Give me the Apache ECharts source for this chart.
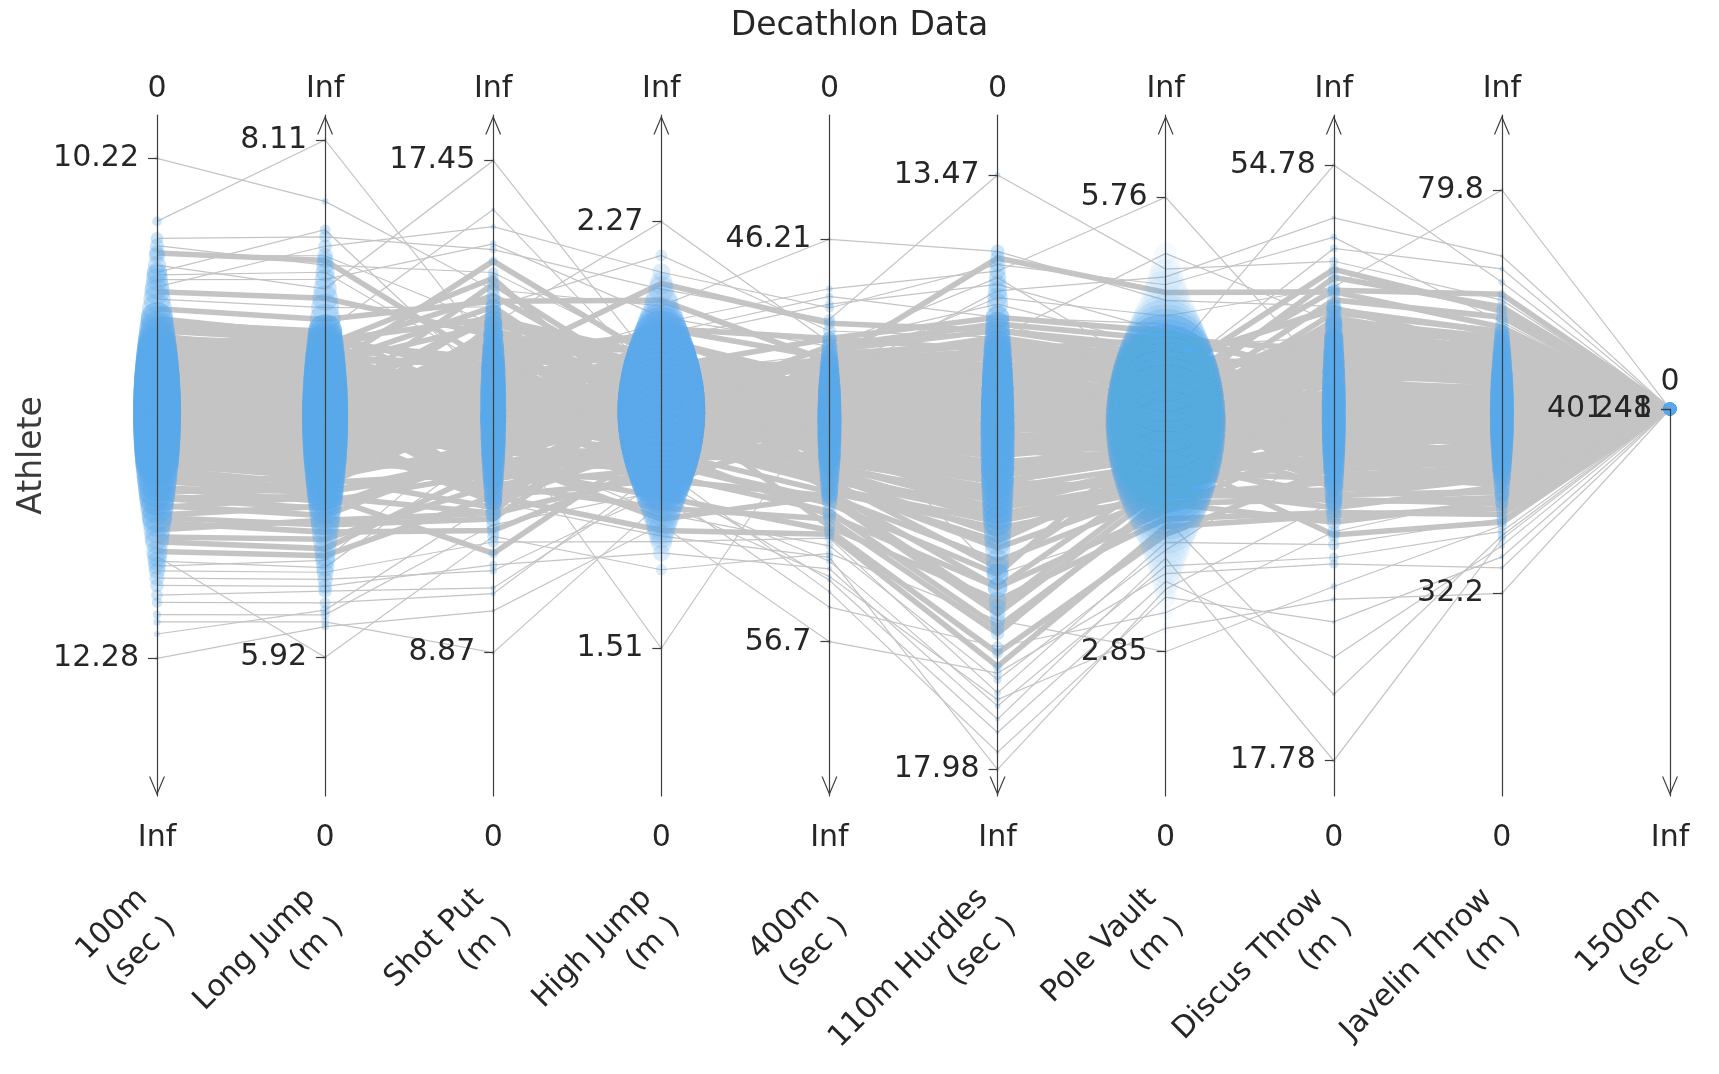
<!DOCTYPE html>
<html>
<head>
<meta charset="utf-8">
<title>Decathlon Data</title>
<script src="https://cdn.jsdelivr.net/npm/echarts@6/dist/echarts.min.js"></script>
<style>
html,body{margin:0;padding:0;background:#fff}
#chart{width:1719px;height:1074px}
</style>
</head>
<body>
<div id="chart"></div>
<script>
const FONT = 'DejaVu Sans'
const TXT = '#262626'

const events = ['100m','Long Jump','Shot Put','High Jump','400m','110m Hurdles','Pole Vault','Discus Throw','Javelin Throw','1500m']
const units = ['sec','m','m','m','sec','sec','m','m','m','sec']
const topLabels = ['0','Inf','Inf','Inf','0','0','Inf','Inf','Inf','0']
const bottomLabels = ['Inf','0','0','0','Inf','Inf','0','0','0','Inf']

// one entry per athlete, same athlete order in every list
const run100 = [10.22,10.48,10.55,10.62,10.70,10.66,10.75,10.58,10.80,10.72,10.69,10.84,10.77,10.88,10.61,
  11.02,11.15,11.31,10.95,11.22,11.40,11.08,11.27,11.18,11.35,
  11.12,10.98,11.44,11.25,11.05,11.33,11.21,11.50,10.92,11.14,
  11.29,11.38,11.10,11.24,11.47,11.03,11.19,11.36,11.26,11.11,
  11.55,11.00,11.23,11.42,11.16,11.30,10.97,11.34,11.20,11.58,
  11.07,11.28,11.45,11.13,11.39,11.22,11.62,11.09,11.32,11.17,
  11.48,11.04,11.26,11.53,11.19,11.41,11.12,11.37,11.65,11.24,
  11.06,11.43,11.31,11.70,11.15,
  11.72,11.80,11.66,11.88,11.75,11.95,11.60,11.84,12.02,11.78,
  11.92,12.05,11.69,11.98,12.10,12.28,11.86,12.13,11.90,12.18,
  11.18,11.05,11.33,11.27,10.96,11.41,11.12,11.22,11.36,11.08,
  11.29,11.47,11.15,11.02,11.38,11.24,11.10,11.52,11.19,11.31,
  10.90,11.26,11.44,11.14,11.06,11.35,11.21,11.58,11.00,11.28,
  11.17,11.40,10.93,11.23,11.49,11.11,11.32,11.04,11.25,11.43,
  11.16,11.55,11.09,11.30,10.99,11.37,11.20,11.46,11.13,11.34,
  11.01,11.27,11.62,11.18,11.07,11.39,11.22,10.88,11.45,11.12]
const longJump = [7.85,8.11,7.70,7.62,7.55,7.48,7.66,7.58,7.40,7.52,7.73,7.35,7.44,7.30,7.60,
  7.12,6.95,6.82,7.20,7.02,6.78,7.15,6.90,7.05,6.85,
  7.08,7.25,6.70,6.98,7.18,6.88,7.00,6.65,7.28,7.10,
  6.92,6.80,7.13,6.97,6.72,7.22,7.04,6.84,6.94,7.16,
  6.62,7.30,6.99,6.76,7.07,6.89,7.24,6.83,7.01,6.58,
  7.19,6.93,6.74,7.11,6.86,7.03,6.55,7.14,6.91,7.06,
  6.68,7.26,6.96,6.63,7.09,6.81,7.17,6.87,6.52,6.99,
  7.21,6.77,6.90,6.48,7.04,
  6.45,6.38,6.60,6.30,6.50,6.25,6.66,6.35,6.20,6.42,
  6.28,6.15,6.56,6.22,6.10,6.05,5.92,6.07,6.33,6.12,
  7.02,7.15,6.85,6.93,7.24,6.76,7.08,6.98,6.82,7.12,
  6.90,6.72,7.05,7.18,6.80,6.95,7.10,6.66,7.00,6.88,
  7.30,6.94,6.75,7.06,7.14,6.86,6.99,6.62,7.20,6.91,
  7.03,6.79,7.26,6.97,6.70,7.09,6.87,7.16,6.96,6.78,
  7.04,6.68,7.11,6.89,7.22,6.83,7.01,6.74,7.07,6.92,
  7.19,6.95,6.60,7.00,7.13,6.81,6.98,7.28,6.77,7.05]
const shotPut = [15.2,14.1,15.9,14.6,13.8,17.45,16.3,15.5,14.9,16.0,13.5,15.0,14.4,16.6,13.9,
  13.4,12.6,14.2,12.9,13.7,11.9,13.2,14.5,12.3,13.0,
  12.8,14.0,13.3,11.6,13.9,12.5,14.8,13.1,12.2,13.6,
  14.3,12.7,13.5,11.8,13.0,15.1,12.4,13.8,12.9,14.6,
  12.1,13.2,14.1,12.6,13.4,11.5,15.4,12.8,13.7,12.0,
  13.9,12.3,14.4,13.1,11.7,13.6,12.5,15.7,12.9,13.3,
  11.4,14.7,12.2,13.8,12.7,14.0,11.9,13.5,12.4,15.3,
  13.0,12.6,14.2,11.2,13.4,
  11.0,12.1,10.6,12.5,11.3,10.3,12.0,11.6,10.0,11.8,
  10.8,9.9,12.3,10.4,11.1,9.6,10.9,8.87,13.0,11.5,
  13.5,12.4,14.2,13.0,12.7,14.6,13.3,11.9,13.8,12.9,
  14.0,12.2,13.6,13.1,12.5,14.4,11.7,13.4,12.8,13.9,
  12.0,14.8,13.2,12.6,13.7,11.5,14.1,12.3,13.0,14.5,
  12.9,13.5,11.8,14.3,12.4,13.6,12.1,14.9,13.3,12.7,
  13.8,12.5,14.2,11.6,13.1,12.8,14.7,12.2,13.4,13.9,
  12.6,14.0,11.3,13.2,12.9,14.4,12.3,13.7,11.9,13.0]
const highJump = [2.12,2.06,2.15,2.27,2.09,2.00,2.18,2.03,2.21,2.10,2.07,2.13,2.01,1.98,2.16,
  1.97,1.91,2.04,1.88,1.95,1.85,2.00,1.93,1.99,1.87,
  1.94,2.02,1.90,1.96,1.84,2.05,1.92,1.89,2.08,1.95,
  1.86,1.98,1.93,2.03,1.91,1.97,1.82,1.99,1.94,2.01,
  1.88,1.96,1.92,2.04,1.85,1.97,1.90,2.00,1.94,1.81,
  1.99,1.93,1.87,2.06,1.91,1.95,1.84,2.02,1.96,1.89,
  1.92,1.98,1.83,2.01,1.94,1.88,2.03,1.90,1.86,1.97,
  1.93,2.00,1.80,1.95,1.91,
  1.84,1.78,1.88,1.75,1.82,1.79,1.86,1.72,1.81,1.76,
  1.70,1.83,1.74,1.68,1.79,1.73,1.65,1.77,1.51,1.71,
  1.94,2.00,1.88,1.97,1.91,2.03,1.85,1.96,1.92,2.06,
  1.89,1.99,1.93,1.82,2.01,1.95,1.87,2.04,1.90,1.98,
  1.94,1.84,2.02,1.92,1.96,1.88,2.07,1.93,1.86,1.99,
  1.91,2.00,1.83,1.95,1.97,1.89,2.05,1.92,1.94,1.86,
  2.01,1.90,1.96,1.81,1.98,1.93,2.03,1.87,1.95,1.91,
  1.99,1.85,2.02,1.94,1.89,1.97,1.92,2.08,1.88,1.96]
const run400 = [46.21,47.9,48.3,48.9,47.5,49.2,48.0,49.6,48.6,49.0,47.7,49.4,48.8,49.9,48.4,
  50.1,50.8,51.4,49.7,50.5,51.9,50.0,51.1,50.3,51.6,
  49.8,49.5,52.1,50.6,50.2,51.3,50.7,52.4,49.3,50.4,
  51.0,51.7,49.9,50.9,52.2,50.3,50.6,51.5,50.8,49.6,
  52.6,49.4,50.7,51.8,50.1,51.2,49.7,51.4,50.5,52.9,
  49.9,50.8,52.0,50.2,51.6,50.4,53.1,50.0,51.3,50.6,
  52.3,49.8,50.9,52.7,50.3,51.9,50.1,51.1,53.4,50.7,
  50.2,51.8,51.0,53.7,50.5,
  53.0,53.8,52.5,54.2,53.3,54.6,52.8,53.9,55.1,53.5,
  54.0,55.4,52.9,54.8,55.8,56.7,54.4,55.0,50.4,54.5,
  50.4,49.6,51.2,50.9,49.2,51.8,50.1,50.6,51.5,49.9,
  50.8,52.0,50.2,49.5,51.3,50.5,50.0,52.4,50.7,51.1,
  49.0,50.9,51.7,50.3,49.8,51.4,50.6,52.7,49.4,51.0,
  50.4,51.9,49.1,50.8,52.2,50.2,51.2,49.7,50.5,51.6,
  50.1,52.5,49.9,51.3,49.3,51.8,50.7,52.1,50.0,51.0,
  49.6,50.9,52.8,50.4,49.8,51.5,50.6,48.8,51.9,50.2]
const hurdles110 = [14.05,14.30,13.47,14.45,14.20,14.60,14.15,14.40,14.70,14.25,14.55,14.10,14.80,14.35,14.65,
  15.0,15.3,15.6,14.9,15.2,15.8,14.95,15.4,15.1,15.7,
  15.05,14.85,16.0,15.25,14.9,15.5,15.15,16.2,14.75,15.35,
  15.45,15.9,15.0,15.2,16.1,15.1,15.3,15.65,15.4,14.95,
  16.3,14.8,15.25,15.75,15.05,15.55,14.9,15.6,15.15,16.4,
  15.1,15.35,15.85,15.0,15.7,15.2,16.5,14.95,15.45,15.3,
  16.05,15.0,15.4,16.25,15.15,15.8,15.05,15.5,16.6,15.25,
  15.1,15.95,15.35,16.7,15.2,
  16.8,17.1,16.45,17.3,16.9,17.5,16.6,17.2,17.7,16.95,
  17.4,17.85,16.75,17.6,17.05,17.25,16.85,17.45,16.5,17.98,
  15.10,14.85,15.45,15.30,14.75,15.70,15.00,15.20,15.55,14.95,
  15.35,15.85,15.05,14.80,15.60,15.25,14.90,16.00,15.15,15.40,
  14.60,15.30,15.75,15.10,14.90,15.50,15.20,16.10,14.70,15.35,
  15.05,15.65,14.65,15.25,15.90,15.00,15.45,14.85,15.20,15.80,
  15.10,16.05,14.95,15.40,14.75,15.55,15.15,15.95,15.00,15.30,
  14.80,15.25,16.15,15.10,14.90,15.60,15.20,14.55,15.70,15.05]
const poleVault = [5.10,4.90,5.30,4.80,5.76,4.70,5.20,5.00,5.40,4.60,4.95,5.15,4.85,5.25,4.75,
  4.50,4.30,4.60,4.20,4.45,4.10,4.55,4.35,4.70,4.15,
  4.40,4.65,4.05,4.50,4.25,4.80,4.35,4.00,4.60,4.45,
  4.20,4.55,4.30,4.75,3.95,4.40,4.50,4.10,4.65,4.25,
  3.90,4.60,4.35,4.15,4.70,4.05,4.45,4.30,4.55,3.85,
  4.50,4.20,3.95,4.40,4.10,4.85,4.30,4.60,4.00,4.45,
  3.80,4.70,4.25,4.05,4.50,3.90,4.40,4.15,3.75,4.55,
  4.35,4.00,4.60,3.70,4.30,
  3.90,3.60,4.10,3.50,3.80,3.40,4.00,3.65,3.30,3.85,
  3.55,3.20,3.95,3.45,3.10,3.35,2.85,3.00,3.70,3.25,
  4.40,4.60,4.20,4.50,4.70,4.10,4.45,4.35,4.15,4.65,
  4.30,4.05,4.55,4.75,4.25,4.40,4.60,3.95,4.50,4.30,
  4.85,4.35,4.10,4.55,4.65,4.20,4.45,3.90,4.70,4.30,
  4.50,4.15,4.80,4.40,4.00,4.60,4.25,4.70,4.35,4.10,
  4.55,3.95,4.65,4.30,4.75,4.20,4.50,4.05,4.60,4.40,
  4.70,4.35,3.85,4.45,4.60,4.20,4.40,4.90,4.15,4.50]
const discus = [46.0,42.5,48.8,44.1,41.2,54.78,50.3,47.2,45.0,49.6,40.8,46.9,43.3,51.5,42.0,
  41.5,38.7,43.8,37.9,40.6,35.8,39.4,44.7,36.9,40.0,
  38.3,42.9,39.9,34.9,43.0,37.4,45.6,39.1,36.2,41.8,
  44.2,38.0,40.4,35.5,39.6,46.4,37.1,42.2,38.8,44.9,
  36.5,40.9,43.5,37.7,41.1,34.3,47.8,38.4,42.6,35.1,
  43.1,37.2,45.3,39.8,33.8,41.9,36.7,48.3,38.5,40.2,
  34.0,45.9,37.0,42.4,39.2,43.6,35.6,41.3,38.1,47.0,
  39.0,36.4,44.0,33.2,40.7,
  33.5,36.0,31.8,37.6,32.6,30.4,35.3,33.0,24.2,34.6,
  31.2,26.4,36.8,17.78,32.0,30.0,28.6,27.8,21.9,33.9,
  40.5,37.8,42.6,39.2,38.4,44.0,40.1,36.5,41.8,39.0,
  43.2,37.0,41.0,39.7,38.0,43.8,35.9,40.8,38.9,42.3,
  36.2,45.1,39.5,38.3,41.6,34.8,42.9,37.4,39.9,44.5,
  38.7,40.6,35.5,43.5,37.6,41.3,36.8,45.8,40.2,38.5,
  42.0,37.9,43.0,35.0,39.4,38.8,44.8,37.2,40.4,42.7,
  38.1,41.9,34.2,39.8,39.1,43.9,37.5,41.4,36.0,40.0]
const javelin = [62.5,58.0,66.8,60.4,56.1,68.9,64.2,79.8,59.3,70.5,55.4,63.6,61.0,72.0,57.5,
  55.8,52.3,59.6,50.1,54.7,48.2,53.5,61.8,49.4,56.9,
  53.0,58.7,51.2,47.0,57.9,50.6,63.1,52.8,46.1,55.1,
  60.2,49.8,54.2,45.5,53.8,64.8,48.7,57.2,51.7,62.0,
  47.6,55.9,59.0,50.3,54.5,44.2,66.0,52.0,58.3,46.8,
  56.6,49.1,61.5,53.3,43.5,57.0,48.0,65.5,51.5,54.9,
  42.8,60.8,50.9,58.1,52.6,59.8,45.0,56.3,49.6,67.5,
  53.6,47.3,62.7,41.5,55.2,
  44.8,48.5,40.6,51.0,43.0,39.5,46.5,42.2,37.8,45.8,
  41.0,36.5,47.9,38.6,43.8,35.2,40.2,32.2,39.0,44.0,
  55.0,50.2,58.4,53.1,51.6,60.8,54.4,48.7,57.0,52.5,
  59.3,49.6,56.1,53.8,51.0,61.5,47.8,55.6,52.0,58.9,
  48.3,62.4,54.1,51.4,57.6,46.5,59.9,50.6,53.5,61.0,
  52.2,56.7,47.2,60.2,50.9,56.4,49.1,63.0,54.7,51.8,
  58.0,50.0,59.6,46.9,53.3,52.7,62.0,49.4,55.3,58.6,
  51.2,57.3,45.8,54.0,53.0,60.5,50.4,57.8,48.0,55.8]
const run1500 = [265.2,272.4,259.8,268.1,275.6,281.3,270.0,263.5,277.9,248,274.3,266.7,279.1,262.4,271.8,
  280.5,287.2,276.4,291.0,283.6,295.8,278.9,285.4,289.7,282.1,
  286.9,279.7,293.4,284.2,290.6,281.0,297.3,288.1,276.8,292.5,
  283.0,289.2,280.1,296.4,285.9,278.3,291.7,287.5,282.8,294.1,
  288.6,281.7,299.0,284.8,290.1,286.3,277.4,293.0,285.1,301.2,
  279.5,292.0,287.8,283.3,298.2,286.0,290.9,280.8,294.7,288.4,
  302.5,284.5,291.3,282.4,296.9,289.0,285.7,293.8,304.0,287.0,
  281.5,295.2,286.6,306.3,290.3,
  305.1,298.7,310.4,300.2,312.8,303.6,315.2,308.9,320.5,302.9,
  318.0,309.5,325.7,313.4,330.1,401.41,316.6,322.3,311.9,327.4,
  286.2,279.4,292.8,284.0,281.6,297.5,288.3,276.9,294.2,283.1,
  290.4,299.8,285.5,278.2,295.0,287.4,282.7,301.6,289.1,291.9,
  277.5,288.8,296.3,284.6,280.3,293.6,286.8,303.2,279.0,290.0,
  285.0,298.4,276.0,289.5,300.7,283.8,292.2,281.2,287.9,296.8,
  284.3,302.4,280.7,291.4,278.6,295.6,286.4,299.2,282.0,289.8,
  279.8,288.0,304.5,285.8,281.9,294.9,287.1,275.3,297.9,283.5]

// value found at the top and at the bottom end of each drawn axis
const axisTop = [10.0416, 8.2158, 18.247, 2.4601, 42.970, 13.0147, 6.287, 57.886, 88.652, -431395]
const axisBottom = [12.8474, 5.3328, 6.371, 1.2469, 60.722, 18.1826, 1.926, 15.587, 8.277, 568605]
// widest point and opacity of the blue dot cloud on each axis
const blobWidth = [48, 46, 26, 88, 24, 34, 120, 24, 24, 13]
const blobOpacity = [0.3, 0.3, 0.3, 0.22, 0.3, 0.3, 0.06, 0.3, 0.3, 0.3]

const cols = [run100, longJump, shotPut, highJump, run400, hurdles110, poleVault, discus, javelin, run1500]
const inv = axisTop.map((t, i) => t < axisBottom[i])
const lo = axisTop.map((t, i) => Math.min(t, axisBottom[i]))
const hi = axisTop.map((t, i) => Math.max(t, axisBottom[i]))
const ext = cols.map(c => [Math.min(...c), Math.max(...c)])
const stats = cols.map(c => {
  const m = c.reduce((a, b) => a + b, 0) / c.length
  const sd = Math.sqrt(c.reduce((a, b) => a + (b - m) * (b - m), 0) / c.length)
  return [m, sd]
})
const zOf = (i, v) => (v - stats[i][0]) / stats[i][1]
function dotSize(i, v){
  const z = zOf(i, v)
  return Math.max(4, blobWidth[i] * Math.exp(-0.5 * (z / 1.3) * (z / 1.3)))
}
// athletes that stay inside the main band get a wide stroke so the band reads as solid
const rows = run100.map((_, k) => {
  const value = cols.map(c => c[k])
  const inBand = value.every((v, i) => i === 9 || Math.abs(zOf(i, v)) <= 2.2)
  return {value, lineStyle: {width: inBand ? 5.6 : 1.2}}
})

const chevron = 'path://M0,24L10,0L20,24L18.4,24L10,4L1.6,24Z'
const lineStyle = {color: '#3d3d3d', width: 1.2}
const text30 = {fontFamily: FONT, fontSize: 30, color: TXT}

const parallelAxis = events.map((ev, i) => ({
  dim: i, type: 'value', min: lo[i], max: hi[i], inverse: inv[i], z: 10,
  name: i === 9 ? '' : topLabels[i],
  nameLocation: inv[i] ? 'start' : 'end', nameGap: 11,
  nameTextStyle: text30,
  axisLine: {show: i !== 9, lineStyle, symbol: inv[i] ? [chevron, 'none'] : ['none', chevron], symbolSize: [16, 20], symbolOffset: [10, -10]},
  // labels and ticks sit on the left of each axis; on 1500m only the max goes here
  axisTick: {show: true, length: -9, customValues: i === 9 ? [ext[i][1]] : ext[i], lineStyle},
  axisLabel: Object.assign({show: true, margin: -18, align: 'right', hideOverlap: false,
    customValues: i === 9 ? [ext[i][1]] : ext[i], showMinLabel: true, showMaxLabel: true, formatter: v => String(v)}, text30),
  splitLine: {show: false}
}))

const yAxis = cols.map((c, i) => ({
  gridIndex: 0, type: 'value', min: lo[i], max: hi[i], inverse: inv[i], position: 'left',
  name: i === 0 ? 'Athlete' : '', nameLocation: 'middle', nameGap: 108,
  nameTextStyle: {fontFamily: FONT, fontSize: 33, color: '#3a3a3a'},
  axisLine: {show: false}, axisTick: {show: false}, axisLabel: {show: false}, splitLine: {show: false}
}))
// the 1500m axis only runs from the meeting point down; it also carries the 1500m min label
yAxis.push({
  gridIndex: 1, type: 'value', min: ext[9][0], max: ext[9][0] + 1e6, inverse: true, position: 'left', z: 10,
  name: topLabels[9], nameLocation: 'start', nameGap: 12, nameTextStyle: text30,
  axisLine: {show: true, lineStyle, symbol: [chevron, 'none'], symbolSize: [16, 20], symbolOffset: [10, -10]},
  axisTick: {show: true, length: 9, customValues: [ext[9][0]], lineStyle},
  axisLabel: Object.assign({show: true, margin: 18, customValues: [ext[9][0]], showMinLabel: true, showMaxLabel: true, formatter: v => String(v)}, text30),
  splitLine: {show: false}
})

const option = {
  animation: false,
  backgroundColor: '#fff',
  title: {text: 'Decathlon Data', left: 'center', top: 5, textStyle: {fontFamily: FONT, fontSize: 33, fontWeight: 'normal', color: TXT}},
  parallel: {left: 157, right: 49, top: 115, bottom: 278},
  parallelAxis,
  grid: [
    {left: 157, right: 49, top: 115, bottom: 278, containLabel: false, outerBoundsMode: 'none'},
    {left: 1670, right: 48, top: 409, bottom: 278, containLabel: false, outerBoundsMode: 'none'}
  ],
  xAxis: [
    {gridIndex: 0, type: 'category', data: bottomLabels, boundaryGap: false, position: 'bottom',
      axisLine: {show: false}, axisTick: {show: false}, splitLine: {show: false},
      axisLabel: Object.assign({interval: 0, margin: 27}, text30)},
    {gridIndex: 0, type: 'category', data: events, boundaryGap: false, position: 'bottom', offset: 112,
      axisLine: {show: false}, axisTick: {show: false}, splitLine: {show: false},
      axisLabel: Object.assign({interval: 0, rotate: 45, align: 'right', verticalAlign: 'middle', lineHeight: 40, margin: 0,
        padding: [81, 0, 0, 0], formatter: (v, i) => v + '\n(' + units[i] + ' )'}, text30)},
    {gridIndex: 1, type: 'value', show: false}
  ],
  yAxis,
  series: [
    {type: 'parallel', data: rows, silent: true, z: 1, lineStyle: {color: '#c4c4c4', width: 1.2, opacity: 1}, emphasis: {disabled: true}},
    ...cols.map((c, i) => ({
      type: 'scatter', xAxisIndex: 1, yAxisIndex: i, z: 3, silent: true,
      data: c.map(v => [i, v]),
      symbolSize: d => dotSize(i, d[1]),
      itemStyle: {color: '#5aaaeb', opacity: blobOpacity[i]},
      emphasis: {disabled: true}
    }))
  ]
}

const chart = echarts.init(document.getElementById('chart'))
chart.setOption(option)
</script>
</body>
</html>
